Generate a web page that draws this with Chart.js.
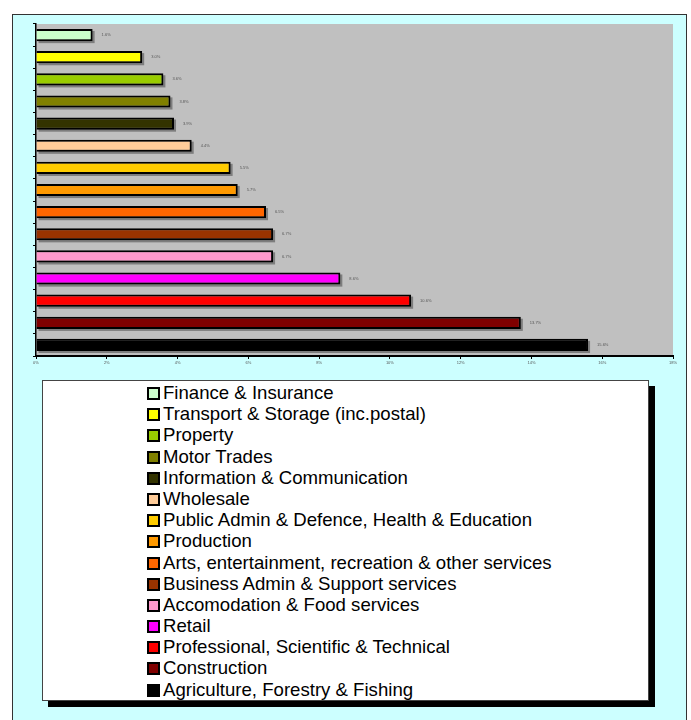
<!DOCTYPE html>
<html>
<head>
<meta charset="utf-8">
<title>Business count by sector</title>
<script src="https://cdn.jsdelivr.net/npm/chart.js@4/dist/chart.umd.min.js"></script>
<style>
  body { margin: 0; background: #fff; font-family: "Liberation Sans", Arial, sans-serif; }
  #frame {
    position: absolute; left: 12px; top: 14px; width: 673px; height: 712px;
    background: #ccffff; border: 1px solid #333;
  }
  #chartBox { position: absolute; left: 0; top: 0; width: 691px; height: 380px; }
  #legend {
    position: absolute; left: 42px; top: 380px; width: 607px; height: 321px;
    background: #fff; border: 1px solid #444; box-shadow: 6px 6px 0 #000;
    padding: 1px 0 0 104px; box-sizing: border-box;
  }
  .item { height: 21.2px; line-height: 21.2px; font-size: 18.6px; color: #000; white-space: nowrap; }
  .swatch {
    display: inline-block; width: 13px; height: 13px; box-sizing: border-box;
    border: 2px solid #000; margin-right: 3px; vertical-align: -1px;
  }
</style>
</head>
<body>
<div id="frame"></div>
<div id="chartBox"><canvas id="myChart" width="691" height="380"></canvas></div>
<div id="legend"></div>
<script>
    // sectors, top bar first
    const categories = [
        'Finance & Insurance',
        'Transport & Storage (inc.postal)',
        'Property',
        'Motor Trades',
        'Information & Communication',
        'Wholesale',
        'Public Admin & Defence, Health & Education',
        'Production',
        'Arts, entertainment, recreation & other services',
        'Business Admin & Support services',
        'Accomodation & Food services',
        'Retail',
        'Professional, Scientific & Technical',
        'Construction',
        'Agriculture, Forestry & Fishing'
    ];
    // share of businesses, %
    const shares = [1.6, 3.0, 3.6, 3.8, 3.9, 4.4, 5.5, 5.7, 6.5, 6.7, 6.7, 8.6, 10.6, 13.7, 15.6];
    const barColours = [
        '#ccffcc', '#ffff00', '#99cc00', '#808000', '#333300',
        '#ffcc99', '#ffcc00', '#ff9900', '#ff6600', '#993300',
        '#ff99cc', '#ff00ff', '#ff0000', '#800000', '#000000'
    ];
    const axisMax = 18;
    const axisStep = 2;

    // legend under the chart
    const legend = document.querySelector('#legend');
    for (let n = 0; n < categories.length; n++) {
        const row = document.createElement('div');
        row.className = 'item';
        const sw = document.createElement('span');
        sw.className = 'swatch';
        sw.style.background = barColours[n];
        row.appendChild(sw);
        row.appendChild(document.createTextNode(categories[n]));
        legend.appendChild(row);
    }

    // grey plot area, bar shadows and the little value labels
    const plotBg = {
        id: 'plotBg',
        beforeDraw(chart) {
            const a = chart.chartArea;
            const ctx = chart.ctx;
            ctx.save();
            ctx.fillStyle = '#c0c0c0';
            ctx.fillRect(a.left, a.top, a.right - a.left, a.bottom - a.top);
            ctx.restore();
        },
        beforeDatasetsDraw(chart) {
            const ctx = chart.ctx;
            ctx.save();
            ctx.fillStyle = 'rgba(0,0,0,0.35)';
            chart.getDatasetMeta(0).data.forEach((bar) => {
                const p = bar.getProps(['x', 'y', 'base', 'height'], true);
                ctx.fillRect(p.base + 2, p.y - p.height / 2 + 2, p.x - p.base, p.height);
            });
            ctx.restore();
        },
        afterDatasetsDraw(chart) {
            const ctx = chart.ctx;
            ctx.save();
            ctx.fillStyle = '#555';
            ctx.font = '4px "Liberation Sans", Arial';
            ctx.textBaseline = 'middle';
            chart.getDatasetMeta(0).data.forEach((bar, i) => {
                const p = bar.getProps(['x', 'y'], true);
                ctx.fillText(shares[i].toFixed(1) + '%', p.x + 9, p.y);
            });
            ctx.restore();
        }
    };

    const chart = document.querySelector('#myChart').getContext('2d');
    const myChart = new Chart(chart, {
        type: 'bar',
        data: {
            labels: categories,
            datasets: [{
                data: shares,
                backgroundColor: barColours,
                borderColor: '#000',
                borderWidth: 2,
                barPercentage: 0.55,
                categoryPercentage: 1
            }]
        },
        options: {
            indexAxis: 'y',
            responsive: false,
            animation: false,
            layout: { padding: { top: 24, right: 18, left: 30, bottom: 10 } },
            plugins: { legend: { display: false }, tooltip: { enabled: false } },
            scales: {
                x: {
                    min: 0,
                    max: axisMax,
                    afterFit: (s) => { s.height = 14; },
                    ticks: {
                        stepSize: axisStep,
                        color: '#555',
                        font: { size: 4, family: '"Liberation Sans", Arial' },
                        padding: 1,
                        maxRotation: 0,
                        callback: (v) => v + '%'
                    },
                    grid: { drawOnChartArea: false, drawTicks: true, tickLength: 3, color: '#000' },
                    border: { color: '#000', width: 2 }
                },
                y: {
                    afterFit: (s) => { s.width = 6; },
                    ticks: { display: false },
                    grid: { drawOnChartArea: false, drawTicks: true, tickLength: 3, color: '#000' },
                    border: { color: '#000', width: 1.5 }
                }
            }
        },
        plugins: [plotBg]
    });
</script>
</body>
</html>
